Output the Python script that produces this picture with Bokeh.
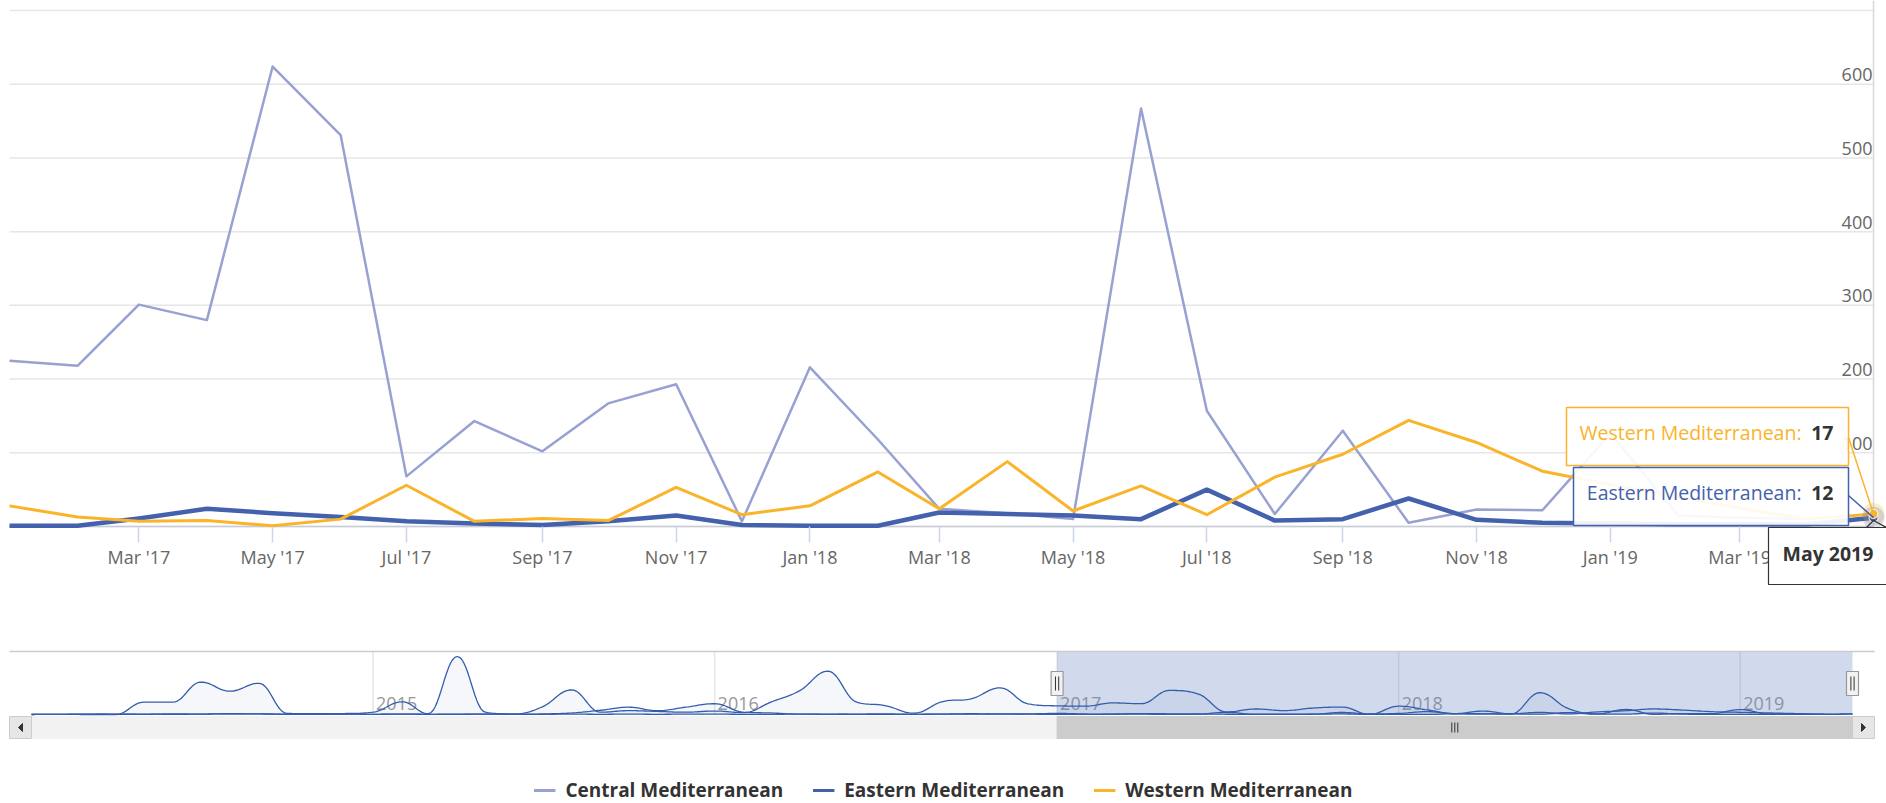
import numpy as np
import pandas as pd
from bokeh.plotting import figure
from bokeh.layouts import column
from bokeh.models import (Range1d, FixedTicker, DatetimeTickFormatter, Legend,
                          LegendItem)
from bokeh.core.properties import value
from bokeh.embed import file_html
from bokeh.resources import INLINE

# ---------------- data (monthly, first month = Jan 2014) ----------------
first_month = "2014-01-01"
series_names = ["Central Mediterranean", "Eastern Mediterranean", "Western Mediterranean"]

central = [
    0, 5, 0, 0, 320, 320, 840, 605, 810, 30, 20, 25,            # 2014
    60, 330, 20, 1505, 60, 15, 200, 640, 60, 100, 80, 60,       # 2015
    90, 50, 320, 620, 1125, 320, 233, 35, 337, 406, 692, 277,   # 2016
    225, 218, 301, 280, 624, 531, 68, 143, 102, 167, 193, 7,    # 2017
    216, 118, 24, 18, 10, 567, 157, 17, 130, 5, 23, 22,         # 2018
    126, 15, 12, 10, None,                                      # 2019
]
eastern = [
    0, 5, 5, 10, 5, 15, 10, 20, 15, 10, 5, 10,
    5, 10, 5, 10, 10, 5, 15, 40, 110, 190, 100, 190,
    280, 60, 40, 10, 10, 5, 5, 5, 10, 10, 15, 10,
    1, 1, 11, 24, 18, 13, 7, 4, 2, 7, 15, 2,
    1, 1, 19, 17, 15, 10, 50, 8, 10, 38, 9, 5,
    4, 3, 3, 3, 12,
]
western = [
    5, 5, 10, 5, 10, 5, 10, 20, 15, 5, 5, 10,
    5, 10, 5, 5, 10, 5, 5, 10, 5, 10, 5, 10,
    10, 5, 5, 10, 5, 10, 15, 5, 10, 20, 10, 15,
    28, 13, 7, 8, 1, 10, 56, 7, 11, 8, 53, 16,
    28, 74, 24, 88, 21, 55, 16, 67, 98, 144, 114, 75,
    57, 40, 25, 10, 17,
]

view_start = "2017-01-01"
view_end = "2019-05-01"
x_tick_dates = ["2017-03-01", "2017-05-01", "2017-07-01", "2017-09-01", "2017-11-01",
                "2018-01-01", "2018-03-01", "2018-05-01", "2018-07-01", "2018-09-01",
                "2018-11-01", "2019-01-01", "2019-03-01"]
y_label_values = [100, 200, 300, 400, 500, 600]
y_grid_values = [0, 100, 200, 300, 400, 500, 600, 700]
nav_years = ["2015", "2016", "2017", "2018", "2019"]
nav_top_value = 1635

# ---------------- styling ----------------
C_COL = "#98a1d2"
E_COL = "#4461ae"
W_COL = "#f9b42a"
NAV_COL = "#335cad"
FONT = "Open Sans"
W = 1886


def ms(s):
    return pd.Timestamp(s).value / 1e6


months = pd.date_range(first_month, periods=len(central), freq="MS")
t_ms = months.values.astype("datetime64[ms]").astype(np.int64).astype(float)

T0, T1 = ms(view_start), ms(view_end)

# page-pixel helpers (main chart): Jan 2017 -> x 9, May 2019 -> x 1873 ; 0 -> y 526, 700 -> y 10
KX = (T1 - T0) / (1873 - 9)
KY = 700.0 / (526 - 10)


def mx(px):
    return T0 + (px - 9) * KX


def my(py):
    return (526 - py) * KY


# ---------------- main chart ----------------
p1 = figure(width=W, height=600, x_axis_type="datetime", y_axis_location=None,
            toolbar_location=None, output_backend="svg",
            x_range=Range1d(mx(0), mx(W)), y_range=Range1d(my(600), my(0)),
            min_border_left=0, min_border_right=0, min_border_top=0, min_border_bottom=0)
p1.outline_line_color = None
p1.grid.visible = False

ax = p1.xaxis[0]
ax.fixed_location = 0
ax.ticker = FixedTicker(ticks=[ms(d) for d in x_tick_dates])
ax.formatter = DatetimeTickFormatter(months="%b '%y")
ax.major_label_text_font = FONT
ax.major_label_text_font_size = "18px"
ax.major_label_text_color = "#666666"
ax.major_tick_out = 16
ax.major_tick_in = 0
ax.major_tick_line_color = "#ccd6eb"
ax.major_tick_line_width = 1.5
ax.minor_tick_line_color = None
ax.axis_line_color = None
ax.major_label_standoff = 2

# grid lines
p1.segment(x0=[T0] * len(y_grid_values), x1=[T1] * len(y_grid_values),
           y0=y_grid_values, y1=y_grid_values, line_color="#e6e6e6", line_width=1.5)
p1.segment(x0=[T0], x1=[T1], y0=[0], y1=[0], line_color="#c6cbd6", line_width=1.5)
p1.segment(x0=[T1], x1=[T1], y0=[0], y1=[my(0)], line_color="#d9d9d9", line_width=1.5)


def valid(xs, ys, start=None):
    pts = [(x, y) for x, y in zip(xs, ys) if y is not None and (start is None or x >= start)]
    return [a for a, _ in pts], [b for _, b in pts]


# main view shows the selected range only (Jan 2017 - May 2019)
for ys_, col, lw in [(central, C_COL, 2.5), (eastern, E_COL, 4.5), (western, W_COL, 3)]:
    vx, vy = valid(t_ms, ys_, T0)
    p1.line(vx, vy, line_color=col, line_width=lw, line_join="round")

# y labels (inside, right)
p1.text(x=[T1] * len(y_label_values), y=y_label_values, text=[str(v) for v in y_label_values],
        text_align="right", text_baseline="bottom", y_offset=-3, x_offset=-1,
        text_font=value(FONT), text_font_size="18px", text_color="#666666")

# hover markers
p1.scatter(x=[T1], y=[western[-1]], size=22, fill_color=W_COL, fill_alpha=0.25, line_color=None)
p1.scatter(x=[T1], y=[eastern[-1]], size=22, fill_color=E_COL, fill_alpha=0.2, line_color=None)
p1.scatter(x=[T1], y=[eastern[-1]], size=9, fill_color=E_COL, line_color="white", line_width=1)
p1.scatter(x=[T1], y=[western[-1]], size=9, fill_color=W_COL, line_color="white", line_width=1)

# tooltip callouts
p1.segment(x0=[mx(1848)], y0=[my(437)], x1=[T1], y1=[western[-1]], line_color=W_COL, line_width=1.5)
p1.segment(x0=[mx(1848)], y0=[my(495)], x1=[T1], y1=[eastern[-1]], line_color=E_COL, line_width=1.5)

# tooltip boxes
p1.quad(left=[mx(1566)], right=[mx(1848)], top=[my(407)], bottom=[my(465)],
        fill_color="white", fill_alpha=0.92, line_color=W_COL, line_width=1.5)
p1.quad(left=[mx(1573)], right=[mx(1848)], top=[my(467)], bottom=[my(525)],
        fill_color="white", fill_alpha=0.92, line_color=E_COL, line_width=1.5)
p1.text(x=[mx(1801)], y=[my(432)], text=[series_names[2] + ":"], text_align="right",
        text_baseline="middle", text_font=value(FONT), text_font_size="19.5px", text_color=W_COL)
p1.text(x=[mx(1833)], y=[my(432)], text=[str(western[-1])], text_align="right",
        text_baseline="middle", text_font=value(FONT), text_font_size="19.5px",
        text_font_style="bold", text_color="#333333")
p1.text(x=[mx(1801)], y=[my(492)], text=[series_names[1] + ":"], text_align="right",
        text_baseline="middle", text_font=value(FONT), text_font_size="19.5px", text_color=E_COL)
p1.text(x=[mx(1833)], y=[my(492)], text=[str(eastern[-1])], text_align="right",
        text_baseline="middle", text_font=value(FONT), text_font_size="19.5px",
        text_font_style="bold", text_color="#333333")

# header tooltip below the axis (drawn above the axis labels)
hq = p1.quad(left=[mx(1768)], right=[mx(1895)], top=[my(527)], bottom=[my(584)],
             fill_color="white", fill_alpha=0.97, line_color="#333333", line_width=1.2)
hq.level = "overlay"
hp = p1.segment(x0=[mx(1866), T1], y0=[my(527), my(520)], x1=[T1, mx(1886)], y1=[my(520), my(527)],
                line_color="#333333", line_width=1.2)
hp.level = "overlay"
ht = p1.text(x=[mx(1782)], y=[my(553)], text=[months[-1].strftime("%B %Y")],
             text_align="left", text_baseline="middle", text_font=value(FONT),
             text_font_size="19.5px", text_font_style="bold", text_color="#333333")
ht.level = "overlay"

# ---------------- navigator + scrollbar ----------------
N0 = t_ms[0]
N1 = t_ms[-1]
KNX = (N1 - N0) / (1852 - 31)
KNY = nav_top_value / (714 - 651)


def nx(px):
    return N0 + (px - 31) * KNX


def ny(py):
    return (714 - py) * KNY


p2 = figure(width=W, height=145, x_axis_location=None, y_axis_location=None,
            toolbar_location=None, output_backend="svg",
            x_range=Range1d(nx(0), nx(W)), y_range=Range1d(ny(745), ny(600)),
            min_border_left=0, min_border_right=0, min_border_top=0, min_border_bottom=0)
p2.outline_line_color = None
p2.grid.visible = False

year_ms = [ms(y + "-01-01") for y in nav_years]
p2.segment(x0=year_ms, x1=year_ms, y0=[0] * len(year_ms), y1=[nav_top_value] * len(year_ms),
           line_color="#e6e6e6", line_width=1.5)
p2.text(x=year_ms, y=[ny(703)] * len(year_ms), text=nav_years, x_offset=3,
        text_align="left", text_baseline="middle", text_font=value(FONT),
        text_font_size="18px", text_color="#999999")

# selected range mask
p2.quad(left=[T0], right=[T1], bottom=[0], top=[nav_top_value],
        fill_color="#6685c2", fill_alpha=0.3, line_color=None)


def spline(xs, ys, smoothing=1.5, n=14):
    xs = np.asarray(xs, float)
    ys = np.asarray(ys, float)
    N = len(xs)
    lx, ly, rx, ry = xs.copy(), ys.copy(), xs.copy(), ys.copy()
    d = smoothing + 1
    for i in range(1, N - 1):
        px, py = xs[i], ys[i]
        ax_, ay = xs[i - 1], ys[i - 1]
        bx, by = xs[i + 1], ys[i + 1]
        lcx = (smoothing * px + ax_) / d
        lcy = (smoothing * py + ay) / d
        rcx = (smoothing * px + bx) / d
        rcy = (smoothing * py + by) / d
        corr = 0.0
        if rcx != lcx:
            corr = (rcy - lcy) * (rcx - px) / (rcx - lcx) + py - rcy
        lcy += corr
        rcy += corr
        if lcy > ay and lcy > py:
            lcy = max(ay, py); rcy = 2 * py - lcy
        elif lcy < ay and lcy < py:
            lcy = min(ay, py); rcy = 2 * py - lcy
        if rcy > by and rcy > py:
            rcy = max(by, py); lcy = 2 * py - rcy
        elif rcy < by and rcy < py:
            rcy = min(by, py); lcy = 2 * py - rcy
        lx[i], ly[i], rx[i], ry[i] = lcx, lcy, rcx, rcy
    outx, outy = [xs[0]], [ys[0]]
    t = np.linspace(0, 1, n + 1)[1:]
    for i in range(N - 1):
        a = (1 - t) ** 3
        b = 3 * (1 - t) ** 2 * t
        c = 3 * (1 - t) * t ** 2
        e = t ** 3
        outx.extend(a * xs[i] + b * rx[i] + c * lx[i + 1] + e * xs[i + 1])
        outy.extend(a * ys[i] + b * ry[i] + c * ly[i + 1] + e * ys[i + 1])
    return np.array(outx), np.array(outy)


for ys_ in [central, eastern, western]:
    vx, vy = valid(t_ms, ys_)
    sx, sy = spline(vx, vy)
    p2.varea(x=sx, y1=0, y2=sy, fill_color=NAV_COL, fill_alpha=0.05)
    p2.line(sx, sy, line_color=NAV_COL, line_width=1.3)

# outline
p2.segment(x0=[nx(9)], x1=[nx(1874)], y0=[ny(651)], y1=[ny(651)], line_color="#cccccc", line_width=1.5)

# handles
hw = 6 * KNX
for hx in [T0, T1]:
    p2.quad(left=[hx - hw], right=[hx + hw], top=[ny(671)], bottom=[ny(695)],
            fill_color="#f2f2f2", line_color="#999999", line_width=1.2)
    p2.segment(x0=[hx - 1.6 * KNX, hx + 1.6 * KNX], x1=[hx - 1.6 * KNX, hx + 1.6 * KNX],
               y0=[ny(676)] * 2, y1=[ny(690)] * 2, line_color="#333333", line_width=1)

# scrollbar
p2.quad(left=[nx(31)], right=[nx(1852)], top=[ny(716)], bottom=[ny(738)],
        fill_color="#f2f2f2", line_color="#f2f2f2")
p2.quad(left=[T0], right=[T1], top=[ny(716)], bottom=[ny(738)],
        fill_color="#cccccc", line_color="#cccccc")
mid = (T0 + T1) / 2
p2.segment(x0=[mid - 3 * KNX, mid, mid + 3 * KNX], x1=[mid - 3 * KNX, mid, mid + 3 * KNX],
           y0=[ny(722)] * 3, y1=[ny(732)] * 3, line_color="#333333", line_width=1)
p2.quad(left=[nx(9), nx(1852)], right=[nx(31), nx(1874)], top=[ny(716)] * 2, bottom=[ny(738)] * 2,
        fill_color="#e6e6e6", line_color="#cccccc", line_width=1)
p2.patch(x=[nx(22), nx(22), nx(18)], y=[ny(723), ny(731), ny(727)], fill_color="#333333", line_color="#333333")
p2.patch(x=[nx(1861), nx(1861), nx(1865)], y=[ny(723), ny(731), ny(727)], fill_color="#333333", line_color="#333333")

# ---------------- legend ----------------
p3 = figure(width=W, height=58, x_axis_location=None, y_axis_location=None,
            toolbar_location=None, output_backend="svg",
            x_range=Range1d(0, 1), y_range=Range1d(0, 1),
            min_border_left=0, min_border_right=0, min_border_top=0, min_border_bottom=0)
p3.outline_line_color = None
p3.grid.visible = False
items = []
for name, col in zip(series_names, [C_COL, E_COL, W_COL]):
    r = p3.line(x=[5, 6], y=[5, 5], line_color=col, line_width=3)
    items.append(LegendItem(label=name, renderers=[r]))
legend = Legend(items=items, orientation="horizontal", location="bottom_center",
                label_text_font=FONT, label_text_font_style="bold", label_text_font_size="19px",
                label_text_color="#333333", glyph_width=22, glyph_height=20, label_standoff=10,
                spacing=29, padding=0, margin=0, border_line_color=None, background_fill_alpha=0)
p3.add_layout(legend, "center")

layout = column(p1, p2, p3)
open("out.html", "w").write(file_html(layout, INLINE))
